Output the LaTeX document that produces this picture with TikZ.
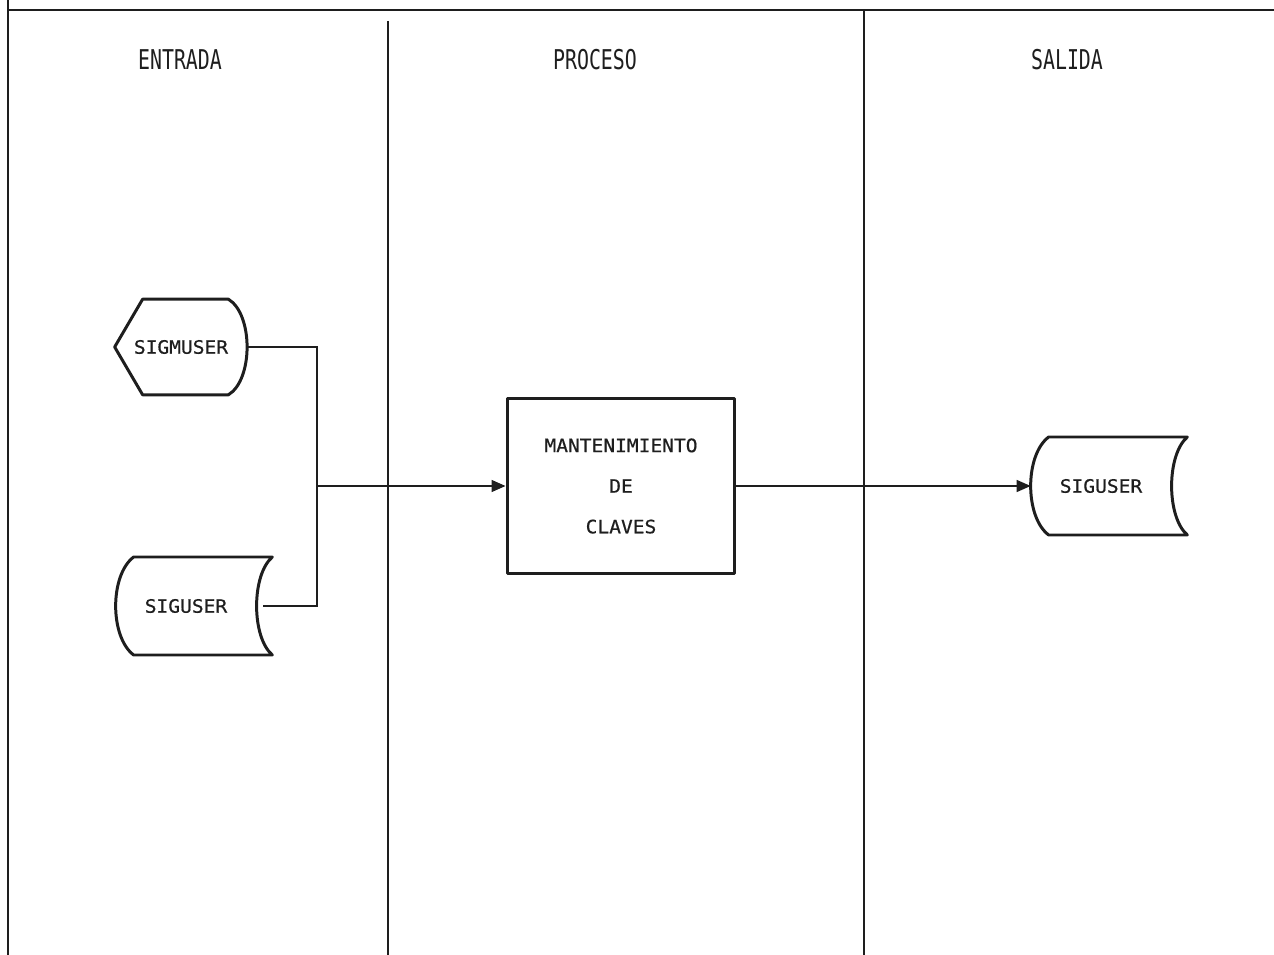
\documentclass[tikz,border=0pt]{standalone}
\usepackage{fontspec}
\usepackage{tikz}
\usetikzlibrary{arrows.meta, positioning, calc}
\newfontfamily\headfont[FakeStretch=0.73]{DejaVu Sans Mono}
\newfontfamily\shapefont[FakeStretch=1.06, FakeBold=0.6]{DejaVu Sans Mono}
\definecolor{inkgray}{RGB}{30, 30, 30}

\tikzset{
  lane/.style={draw=inkgray, line width=0.7pt},
  header/.style={font=\headfont\fontsize{15.5}{18}\selectfont, text=inkgray},
  shapetext/.style={font=\shapefont\fontsize{10.5}{12.6}\selectfont, text=inkgray, inner sep=0pt},
  outline/.style={draw=inkgray, line width=1.7pt, line join=round},
  storage/.style={shapetext, minimum width=2.8cm, minimum height=1.96cm},
  screen/.style={shapetext, minimum width=2.64cm, minimum height=1.9cm},
  procbox/.style={shapetext, outline, minimum width=4.56cm, minimum height=3.5cm, align=center},
  link/.style={draw=inkgray, line width=0.8pt},
  flow/.style={link, -{Triangle[length=0.28cm, width=0.24cm]}}
}

\begin{document}
\begin{tikzpicture}[x=0.02cm, y=-0.02cm]
  \useasboundingbox (0,0) rectangle (1274,955);

  % frame and lanes
  \draw[lane] (8,0) -- (8,955);
  \draw[draw=inkgray, line width=1.6pt] (8,10) -- (1274,10);
  \draw[lane] (388,21) -- (388,955);
  \draw[lane] (864,10) -- (864,955);

  \node[header] (hEntrada) at (180,60) {ENTRADA};
  \node[header] (hProceso) at (595,60) {PROCESO};
  \node[header] (hSalida) at (1067,60) {SALIDA};

  % entrada
  \node[screen] (sigmuser) at (181,347) {SIGMUSER};
  \draw[outline] (sigmuser.west) -- ($(sigmuser.north west)+(28,0)$)
    -- ($(sigmuser.north east)+(-19,0)$)
    .. controls ($(sigmuser.north east)+(6,15)$) and ($(sigmuser.south east)+(6,-15)$)
    .. ($(sigmuser.south east)+(-19,0)$)
    -- ($(sigmuser.south west)+(28,0)$) -- cycle;

  \node[storage] (siguserIn) at (186,606) {SIGUSER};
  \draw[outline] ($(siguserIn.west)+(18,-49)$) -- ($(siguserIn.east)+(16,-49)$)
    .. controls ($(siguserIn.east)+(-5,-31)$) and ($(siguserIn.east)+(-5,31)$)
    .. ($(siguserIn.east)+(16,49)$) -- ($(siguserIn.west)+(18,49)$)
    .. controls ($(siguserIn.west)+(-6,31)$) and ($(siguserIn.west)+(-6,-31)$)
    .. cycle;

  % proceso
  \node[procbox] (mantenimiento) at (621,486)
    {MANTENIMIENTO\\[10.5pt]DE\\[10.5pt]CLAVES};

  % salida
  \node[storage] (siguserOut) at (1101,486) {SIGUSER};
  \draw[outline] ($(siguserOut.west)+(18,-49)$) -- ($(siguserOut.east)+(16,-49)$)
    .. controls ($(siguserOut.east)+(-5,-31)$) and ($(siguserOut.east)+(-5,31)$)
    .. ($(siguserOut.east)+(16,49)$) -- ($(siguserOut.west)+(18,49)$)
    .. controls ($(siguserOut.west)+(-6,31)$) and ($(siguserOut.west)+(-6,-31)$)
    .. cycle;

  % connectors
  \coordinate (join) at (317,486);
  \draw[link] (sigmuser.east) -| (join);
  \draw[link, shorten <=0.14cm] (siguserIn.east) -| (join);
  \draw[flow] (join) -- (mantenimiento.west);
  \draw[flow] (mantenimiento.east) -- (siguserOut.west);
\end{tikzpicture}
\end{document}
